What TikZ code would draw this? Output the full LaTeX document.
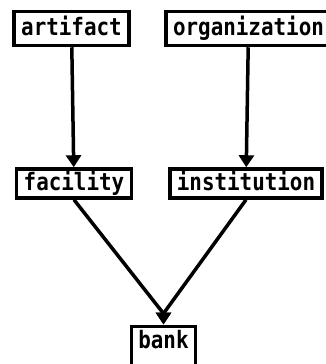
\documentclass[tikz,border=0pt]{standalone}
\usepackage{fontspec}
\setmonofont[FakeStretch=0.87]{DejaVu Sans Mono}
\usetikzlibrary{arrows.meta}

\begin{document}
\begin{tikzpicture}[x=1pt, y=-1pt, >={Triangle[length=12pt, width=15pt]}]
    % 通用样式
    \tikzstyle{node_word} = [draw=black, line width=3.5pt, inner xsep=7pt, inner ysep=0pt,
        font=\ttfamily\bfseries\fontsize{24}{24}\selectfont, text height=17pt, text depth=4pt]
    \tikzstyle{node_top} = [node_word, minimum height=34pt]
    \tikzstyle{node_mid} = [node_word, minimum height=29pt]
    \tikzstyle{arrow_isa} = [->, line width=3.5pt, black]

    % 画布
    \useasboundingbox (0,0) rectangle (326,364);
    \clip (0,0) rectangle (326,364);

    % 节点
    \node[node_top] (artifact) at (71.5, 28.5) {artifact};
    \node[node_top] (organization) at (248.5, 28.5) {organization};
    \node[node_mid] (facility) at (74, 183.5) {facility};
    \node[node_mid] (institution) at (246, 183.5) {institution};
    \node[node_word, anchor=north, text height=22pt, text depth=25pt] (bank) at (163.5, 324.5) {bank};

    % 连接 (末端竖直)
    \draw[arrow_isa] (artifact) -- (facility);
    \draw[arrow_isa] (organization) -- (institution);
    \draw[arrow_isa] (facility.south) -- ([yshift=11pt]bank.north) -- (bank.north);
    \draw[arrow_isa] (institution.south) -- ([yshift=11pt]bank.north) -- (bank.north);

\end{tikzpicture}
\end{document}
